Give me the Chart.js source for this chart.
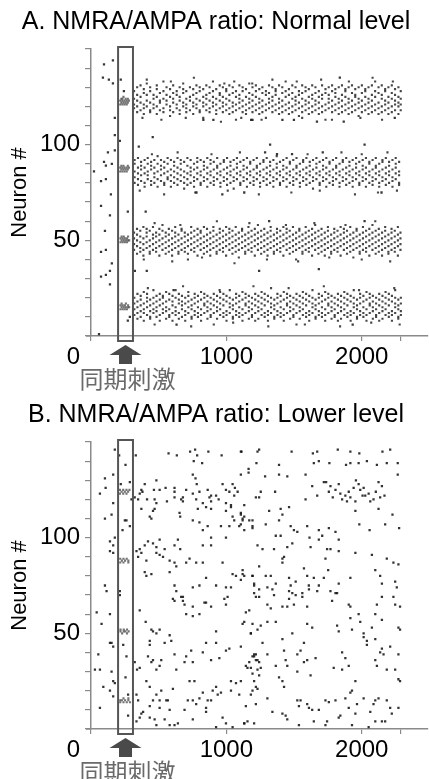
<!DOCTYPE html>
<html>
<head>
<meta charset="utf-8">
<script src="https://cdn.jsdelivr.net/npm/chart.js@4.4.1/dist/chart.umd.min.js"></script>
<style>
  html, body { margin: 0; padding: 0; background: #fff; overflow: hidden; }
  .panel { position: absolute; left: 0; width: 429px; height: 393px; }
</style>
</head>
<body>
<div class="panel" style="top:0"><canvas id="chartA"></canvas></div>
<div class="panel" style="top:393px"><canvas id="chartB"></canvas></div>
<script>
var titleA = 'A. NMRA/AMPA ratio: Normal level';
var titleB = 'B. NMRA/AMPA ratio: Lower level';
var yTitle = 'Neuron #';
var stimLabel = '同期刺激';
var originLabel = '0';
var stimStart = 200, stimEnd = 310;
var xTickValues = [0, 1000, 2000, 2290];
var xTickLabels = ['', '1000', '2000', ''];
var yTickValues = [0, 10, 20, 30, 40, 50, 60, 70, 80, 90, 100, 110, 120, 130, 140, 150];
var yLabelled = [50, 100];

// panel A: [time, neuron, neuron, ...] = neurons firing together
var bandA1 = [
  [318,119,121,124,128],[341,117,120,123,126,130],[366,118,122,125,131],[390,116,119,121,127,129],
  [412,120,123,126,132],[437,117,118,122,128,130],[462,119,121,124,126],[486,116,120,125,129,131],
  [509,118,122,123,127],[535,117,119,124,128,133],[558,121,123,126,130],[584,115,118,120,125,129],
  [607,117,122,124,127,131],[633,119,121,126,128],[655,116,118,123,125,130],[681,120,122,127,129,132],
  [704,117,119,121,124,128],[731,118,123,125,130],[755,116,120,122,126,129],[779,119,121,124,127,131],
  [803,117,118,123,128,130],[829,114,120,122,125,129],[852,118,121,124,126,131],[876,117,119,123,127,130],
  [901,120,122,125,128,133],[925,116,118,121,124,129],[951,119,123,126,127,131],[974,117,120,122,125,130],
  [999,118,121,124,128,129],[1022,116,119,123,126,131],[1047,117,120,122,127,130],[1071,113,118,121,125,128],
  [1096,119,122,124,126,131],[1120,117,120,123,128,130],[1145,116,118,121,125,129],[1169,119,122,124,127,132],
  [1193,117,120,123,126,130],[1218,118,121,125,128,131],[1243,116,119,122,124,129],[1266,117,120,123,127,130],
  [1292,114,118,121,126,128],[1315,119,122,124,127,131],[1340,117,120,123,125,130],[1364,118,121,126,128,129],
  [1389,116,119,122,124,131],[1413,117,120,123,127,130],[1438,118,121,125,128,133],[1462,116,119,122,126,129],
  [1487,117,120,124,127,131],[1511,118,121,123,125,130],[1536,115,119,122,126,128],[1560,117,120,124,127,131],
  [1585,118,121,123,128,130],[1609,116,119,122,125,129],[1634,117,120,124,126,131],[1658,118,121,123,127,130],
  [1683,116,119,122,125,128],[1707,117,120,124,126,131],[1732,113,118,121,127,129],[1756,119,122,124,126,130],
  [1781,117,120,123,128,131],[1805,118,121,125,127,129],[1830,116,119,122,124,130],[1854,117,120,123,126,131],
  [1879,118,121,125,128,129],[1903,116,119,122,124,130],[1928,117,120,123,127,131],[1952,118,121,125,126,129],
  [1977,115,119,122,124,130],[2001,117,120,123,127,131],[2026,118,121,125,128,129],[2050,116,119,122,124,130],
  [2075,117,120,123,126,131],[2099,118,121,125,128,133],[2124,116,119,122,127,130],[2148,117,120,124,126,131],
  [2173,118,121,123,128,129],[2197,116,119,122,125,130],[2222,117,120,124,127,131],[2246,118,121,123,126,129],
  [2271,116,120,122,125,130],[2288,118,121,124,128]
];
var bandA2 = [
  [322,80,83,86,90,92],[347,79,82,85,88,93],[370,81,84,87,89,91],[396,78,80,85,88,92],[419,82,84,86,90,93],
  [444,79,81,87,89,91],[468,80,83,85,88,92],[492,78,82,86,90,94],[517,81,84,87,89,92],[541,79,80,85,88,91],
  [566,82,83,86,90,93],[590,78,81,84,87,92],[614,80,83,86,89,91],[639,79,82,85,88,93],[663,81,84,87,90,92],
  [688,77,80,83,86,91],[712,79,82,85,89,93],[736,80,84,86,88,92],[761,78,81,83,87,90],[785,82,85,88,91,93],
  [810,79,80,84,86,92],[834,81,83,87,89,91],[859,78,82,85,88,93],[883,80,84,86,90,92],[907,79,81,83,87,91],
  [932,82,85,88,89,93],[956,78,80,84,86,90],[981,81,83,87,91,92],[1005,79,82,85,88,93],[1030,80,84,86,89,91],
  [1054,77,81,83,87,92],[1078,82,85,88,90,93],[1103,79,80,84,86,91],[1127,81,83,87,89,92],[1152,78,82,85,88,93],
  [1176,80,84,86,90,91],[1201,79,81,83,87,92],[1225,82,85,88,89,93],[1249,78,80,84,86,90],[1274,81,83,87,91,92],
  [1298,79,82,85,88,93],[1323,80,84,86,89,91],[1347,78,81,83,87,92],[1372,82,85,88,90,94],[1396,79,80,84,86,91],
  [1420,81,83,87,89,92],[1445,78,82,85,88,93],[1469,80,84,86,90,91],[1494,79,81,83,87,92],[1518,82,85,88,89,93],
  [1543,78,80,84,86,90],[1567,81,83,87,91,92],[1591,79,82,85,88,93],[1616,80,84,86,89,91],[1640,77,81,83,87,92],
  [1665,82,85,88,90,93],[1689,79,80,84,86,91],[1714,81,83,87,89,92],[1738,78,82,85,88,93],[1762,80,84,86,90,91],
  [1787,79,81,83,87,92],[1811,82,85,88,89,93],[1836,78,80,84,86,90],[1860,81,83,87,91,92],[1885,79,82,85,88,93],
  [1909,80,84,86,89,91],[1933,78,81,83,87,92],[1958,82,85,88,90,93],[1982,79,80,84,86,91],[2007,81,83,87,89,92],
  [2031,78,82,85,88,93],[2056,80,84,86,90,91],[2080,79,81,83,87,92],[2104,82,85,88,89,93],[2129,78,80,84,86,90],
  [2153,81,83,87,91,92],[2178,79,82,85,88,93],[2202,80,84,86,89,91],[2227,78,81,83,87,92],[2251,82,85,88,90,93],
  [2276,79,80,84,86,91]
];
var bandA3 = [
  [318,45,48,51,54],[340,43,47,50,53,56],[364,44,46,49,52,55],[387,42,45,48,51,57],[411,46,49,52,54,56],
  [434,43,44,47,50,55],[458,45,48,51,53,57],[481,44,46,49,52,54],[505,42,47,50,53,56],[528,45,48,51,55,58],
  [552,43,46,49,52,54],[575,44,47,50,53,56],[599,42,45,48,51,55],[622,46,49,52,54,57],[646,43,44,47,50,53],
  [669,45,48,51,55,56],[693,44,46,49,52,54],[716,40,43,47,50,53],[740,45,48,51,54,57],[763,44,46,49,52,55],
  [787,42,47,50,53,56],[810,45,48,51,54,55],[834,43,46,49,52,57],[857,44,47,50,53,56],[881,42,45,48,51,54],
  [904,46,49,52,55,57],[928,43,44,47,50,53],[951,45,48,51,54,56],[975,44,46,49,52,55],[998,42,47,50,53,57],
  [1022,45,48,51,54,56],[1045,43,46,49,52,55],[1069,44,47,50,53,57],[1092,41,45,48,51,54],[1116,46,49,52,55,56],
  [1139,43,44,47,50,53],[1163,45,48,51,54,57],[1186,44,46,49,52,55],[1210,42,47,50,53,56],[1233,45,48,51,54,58],
  [1257,43,46,49,52,55],[1280,44,47,50,53,56],[1304,42,45,48,51,54],[1327,46,49,52,55,57],[1351,43,44,47,50,53],
  [1374,45,48,51,54,56],[1398,44,46,49,52,55],[1421,42,47,50,53,57],[1445,45,48,51,54,56],[1468,43,46,49,52,55],
  [1492,44,47,50,53,57],[1515,40,45,48,51,54],[1539,46,49,52,55,56],[1562,43,44,47,50,53],[1586,45,48,51,54,57],
  [1609,44,46,49,52,55],[1633,42,47,50,53,56],[1656,45,48,51,54,58],[1680,43,46,49,52,55],[1703,44,47,50,53,56],
  [1727,42,45,48,51,54],[1750,46,49,52,55,57],[1774,43,44,47,50,53],[1797,45,48,51,54,56],[1821,44,46,49,52,55],
  [1844,42,47,50,53,57],[1868,45,48,51,54,56],[1891,43,46,49,52,55],[1915,44,47,50,53,57],[1938,41,45,48,51,54],
  [1962,46,49,52,55,56],[1985,43,44,47,50,53],[2009,45,48,51,54,57],[2032,44,46,49,52,55],[2056,42,47,50,53,56],
  [2079,45,48,51,54,58],[2103,43,46,49,52,55],[2126,44,47,50,53,56],[2150,42,45,48,51,54],[2173,46,49,52,55,57],
  [2197,43,44,47,50,53],[2220,45,48,51,54,56],[2244,44,46,49,52,55],[2267,42,47,50,53,57],[2286,45,48,51,54]
];
var bandA4 = [
  [320,11,14,17,20],[343,9,12,15,18,22],[367,10,13,16,19,21],[390,8,12,14,17,23],[414,11,15,18,20,22],
  [437,9,10,13,16,19],[461,12,14,17,20,24],[484,10,13,15,18,21],[508,8,11,16,19,22],[531,12,14,17,20,21],
  [555,9,13,15,18,23],[578,10,11,14,19,22],[602,8,12,16,18,21],[625,11,13,15,20,24],[649,9,12,17,19,22],
  [672,10,14,16,18,21],[696,8,11,13,17,20],[719,12,15,18,21,23],[743,9,10,14,16,19],[766,11,13,17,20,22],
  [790,10,12,15,18,21],[813,8,11,14,19,23],[837,12,16,17,20,22],[860,9,13,15,18,21],[884,10,11,14,17,20],
  [907,6,12,16,19,22],[931,9,13,15,18,21],[954,11,14,17,20,23],[978,10,12,16,19,22],[1001,8,11,13,18,21],
  [1025,12,15,17,20,24],[1048,9,10,14,16,19],[1072,11,13,17,20,22],[1095,10,12,15,18,21],[1119,8,11,14,19,23],
  [1142,12,16,17,20,22],[1166,9,13,15,18,21],[1189,10,11,14,17,20],[1213,8,12,16,19,22],[1236,9,13,15,18,21],
  [1260,11,14,17,20,23],[1283,10,12,16,19,22],[1307,8,11,13,18,21],[1330,12,15,17,20,25],[1354,9,10,14,16,19],
  [1377,11,13,17,20,22],[1401,10,12,15,18,21],[1424,8,11,14,19,23],[1448,12,16,17,20,22],[1471,9,13,15,18,21],
  [1495,10,11,14,17,20],[1518,6,12,16,19,22],[1542,9,13,15,18,21],[1565,11,14,17,20,23],[1589,10,12,16,19,22],
  [1612,8,11,13,18,21],[1636,12,15,17,20,24],[1659,9,10,14,16,19],[1683,11,13,17,20,22],[1706,10,12,15,18,21],
  [1730,8,11,14,19,23],[1753,12,16,17,20,22],[1777,9,13,15,18,21],[1800,10,11,14,17,20],[1824,8,12,16,19,22],
  [1847,9,13,15,18,21],[1871,11,14,17,20,23],[1894,10,12,16,19,22],[1918,8,11,13,18,21],[1941,12,15,17,20,24],
  [1965,9,10,14,16,19],[1988,11,13,17,20,22],[2012,10,12,15,18,21],[2035,8,11,14,19,23],[2059,12,16,17,20,22],
  [2082,9,13,15,18,21],[2106,10,11,14,17,20],[2129,8,12,16,19,22],[2153,9,13,15,18,21],[2176,11,14,17,20,23],
  [2200,10,12,16,19,22],[2223,8,11,13,18,21],[2247,12,15,17,20,24],[2270,9,10,14,16,19],[2289,11,13,17,20]
];
var syncA = [
  [216,121,123],[224,122,124],[232,121,123,124],[240,122,125],[248,121,123],[256,122,124],[264,121,123],[272,122,124],[280,123],
  [216,86,88],[224,87,89],[232,86,88],[240,87,89],[248,86,88],[256,87],[264,86,88],[272,87,89],[280,88],
  [218,49,51],[226,50,52],[234,49,51],[242,50,52],[250,49,51],[258,50],[266,49,51],[274,50,52],[282,50],
  [218,14,16],[226,15,17],[234,14,16],[242,15],[250,14,16],[258,15,17],[266,14],[274,15,16],[282,15]
];
// scattered single spikes, flat [time, neuron, ...]
var strayA = [
  96,142, 162,144, 88,135, 132,134, 162,132, 220,134, 243,128, 176,114, 176,105, 213,102, 125,96, 96,91,
  110,89, 154,90, 22,86, 74,81, 110,82, 147,74, 176,97, 74,68, 272,65, 140,63, 103,55, 74,44, 110,45,
  154,38, 140,34, 74,31, 110,32, 140,27, 59,1, 287,10, 272,8,
  353,99, 456,104, 404,65, 324,34, 412,34, 632,6, 610,24, 779,75, 970,74, 1132,75, 1838,135, 1867,112,
  1669,112, 1323,100, 2021,100, 1242,34, 1683,35, 1933,6, 2146,75, 1316,60, 2021,60, 1193,113, 1414,113,
  1499,113, 2244,114, 1286,96, 1374,95, 1485,95, 1712,96, 830,113, 904,113, 1183,113
];
// sparse spikes along the band edges
var edgeA = [
  412,134, 590,133, 760,135, 985,132, 1058,133, 1191,132, 1340,134, 1520,133, 1700,134, 1905,133, 2080,135, 2230,133,
  380,114, 520,113, 700,114, 960,112, 1110,114, 1260,113, 1560,114, 1780,113, 1990,114, 2150,113,
  450,95, 640,96, 890,95, 1100,96, 1600,95, 1850,96, 2000,95, 2190,96,
  360,76, 540,74, 770,75, 1010,76, 1240,74, 1480,75, 1690,76, 1950,74, 2120,75, 2260,76,
  470,59, 660,58, 930,60, 1170,59, 1440,58, 1650,59, 1880,58, 2100,60,
  390,40, 600,39, 820,41, 1060,38, 1300,40, 1530,39, 1760,41, 2000,40, 2210,39,
  420,25, 680,26, 950,24, 1200,26, 1460,25, 1720,26, 1980,24, 2240,25,
  470,6, 740,5, 1050,7, 1310,5, 1580,6, 1840,5, 2070,7, 2280,6
];

// panel B
var syncB = [
  [214,123,125],[226,124],[238,123,125],[250,124],[262,123,125],[274,124],[284,125],
  [216,87,89],[228,88],[240,87,89],[252,88],[264,89],[276,87,88],
  [218,51,52],[230,50],[242,51,52],[254,51],[266,50,52],[278,51],
  [216,14,15],[228,15],[240,14,16],[252,15],[264,14],[276,15,16],[288,14]
];
var spikesB = [
  176,146, 66,123, 103,131, 164,133, 108,126, 164,118, 103,110, 152,112, 140,98, 164,96, 176,100, 140,93,
  164,92, 103,75, 115,72, 42,61, 140,60, 78,55, 152,45, 140,45, 164,43, 54,39, 29,31, 66,31, 152,30,
  164,25, 176,24, 91,22, 164,17, 66,11, 140,20,
  208,143, 255,138, 220,128, 287,129, 250,109, 233,104, 287,106, 262,109, 213,70, 262,38, 255,27, 274,18,
  274,7, 238,44, 213,72,
  331,143, 573,144, 634,143, 732,145, 769,146, 867,145, 965,143, 1112,145, 784,143, 759,140, 821,139,
  1164,136, 372,125, 397,128, 483,130, 617,126, 752,133, 772,131, 781,128, 972,128, 1046,128, 1063,126,
  380,124, 360,123, 465,125, 507,125, 551,126, 617,124, 679,121, 703,125, 801,124, 752,123, 862,125,
  887,122, 924,122, 997,125, 1022,124, 1058,122, 1083,124, 1218,121, 299,120, 323,121, 348,120, 414,120,
  470,120, 483,118, 561,119, 617,121, 666,120, 679,119, 777,120, 826,118, 875,121, 887,119, 943,120,
  997,118, 1034,117, 1132,117, 372,115, 458,114, 470,115, 789,115, 850,116, 887,115, 997,114, 1034,116,
  434,111, 446,110, 654,113, 659,111, 752,109, 801,108, 826,104, 862,106, 960,106, 1046,111, 1058,109,
  1107,112, 1120,109, 1132,111, 1022,106, 1095,106, 1193,109, 1193,106, 397,96, 421,98, 360,94, 458,97,
  483,95, 507,99, 544,94, 617,96, 659,94, 642,99, 826,96, 887,100, 887,96, 997,100, 336,93, 372,92,
  348,90, 409,88, 483,92, 507,91, 532,90, 581,88, 617,87, 630,85, 703,87, 728,89, 777,87, 826,87,
  972,87, 1046,81, 1071,80, 1107,78, 1120,81, 1193,80, 1205,76, 1034,74, 397,82, 409,80, 446,81, 581,82,
  617,75, 630,72, 679,69, 752,74, 801,75, 850,79, 924,75, 997,74, 1009,69,
  323,35, 340,31, 360,62, 404,56, 446,52, 458,51, 483,50, 507,52, 434,46, 434,44, 458,36, 483,31,
  507,33, 519,36, 544,45, 617,39, 630,31, 605,21, 519,20, 507,15, 458,15, 434,12, 507,11, 470,5,
  385,9, 360,6, 434,6, 544,5, 568,15, 617,2, 642,3, 703,38, 740,41, 691,35, 752,35, 752,5, 715,15,
  752,15, 777,13, 801,16, 826,19, 850,11, 850,9, 862,15, 887,15, 899,20, 924,22, 936,18, 960,19,
  924,1, 972,6, 997,41, 1022,42, 1034,25, 1071,24, 1107,25, 1034,20, 1095,18, 1144,12, 1193,20, 1132,3,
  1156,4, 997,3, 1046,1, 1120,55, 1181,50, 1205,38, 1169,35, 1181,32, 1218,39, 1218,36, 1193,55, 1169,62,
  666,69, 679,67, 691,65, 752,64, 838,66, 850,66, 997,65, 887,64, 985,68, 1144,61, 1218,69, 605,68,
  617,67, 703,60, 752,59, 801,60, 924,51, 850,45, 924,45, 826,40, 887,36, 948,37, 360,32, 421,38,
  446,35, 581,49, 593,46, 409,25, 434,22, 483,18, 556,15, 581,10, 691,10, 728,25, 764,25, 336,18,
  348,15, 336,4, 372,8, 581,2, 483,2,
  1107,145, 1230,145, 1242,146, 1482,145, 1639,144, 1671,145, 1823,146, 1916,145, 1982,144, 2153,145,
  2210,146, 1222,139, 1389,138, 1646,139, 1683,140, 1761,139, 1884,138, 1916,139, 1977,139, 2038,140,
  2112,138, 2185,139, 2266,139, 1107,133, 1164,134, 1286,132, 1389,133, 1450,132, 1585,133, 2266,133,
  1720,129, 1737,129, 1769,127, 1806,125, 1830,128, 1842,123, 1855,120, 1879,122, 1904,124, 1916,121,
  1940,126, 1957,130, 1977,128, 1989,125, 2006,122, 2014,126, 2026,122, 2051,123, 2063,119, 2087,120,
  2104,124, 2124,129, 2136,121, 2149,127, 2168,122, 1786,121, 1891,119, 1953,119, 1757,124, 1671,122,
  1634,127, 1585,120, 1254,124, 1360,124, 1242,121, 1316,114, 1401,115, 1414,112, 1463,116, 1107,113,
  1120,110, 1169,109, 1953,114, 2227,112, 2276,105, 1982,107, 2058,104, 2173,107, 2124,115,
  1132,104, 1193,105, 1291,107, 1389,109, 1475,106, 1499,104, 1365,101, 1401,101, 1450,95, 1524,103,
  1597,106, 1614,100, 1622,95, 1683,104, 1708,101, 1757,105, 1806,103, 1830,99, 1744,94, 1769,94,
  1830,93, 1683,99, 1230,96, 1267,94, 1352,94, 1414,89, 1487,97, 1107,107,
  1120,83, 1132,80, 1193,80, 1205,75, 1242,85, 1291,80, 1328,80, 1303,74, 1340,73, 1365,76, 1414,87,
  1426,90, 1463,79, 1475,75, 1487,71, 1512,77, 1573,84, 1597,80, 1609,75, 1646,79, 1683,75, 1720,79,
  1732,89, 1752,83, 1830,76, 1818,71, 1916,79, 1953,92, 2075,91, 2100,83, 2136,80, 2149,76, 2185,89,
  2247,77, 2259,74, 2234,87, 2271,86, 2149,69, 1242,69, 1463,68, 1561,69,
  1205,71, 1242,73, 1352,70, 1463,72, 1512,70, 1561,71, 1610,73, 1671,72, 1769,72, 1806,71, 1303,65,
  1328,63, 1414,64, 1450,64, 1499,65, 1597,64, 1781,67, 1904,65, 1916,64, 2112,65, 2234,69, 2247,65,
  2283,64, 1132,56, 1181,50, 1230,52, 1254,54, 1303,56, 1365,56, 1487,50, 1597,55, 1634,53, 1818,54,
  1830,51, 1916,58, 1928,52, 1977,60, 1989,56, 2014,50, 2075,53, 2100,60, 2149,57, 2271,53, 2283,52,
  1107,43, 1193,38, 1205,39, 1230,36, 1242,35, 1267,45, 1303,39, 1414,47, 1426,41, 1524,39, 1548,41,
  1573,45, 1597,36, 1659,37, 1855,40, 1879,37, 2014,48, 2038,46, 2038,44, 2100,47, 2136,40, 2149,42,
  2161,39, 2210,43, 2271,39, 1144,33, 1156,32, 1193,29, 1205,25, 1230,31, 1242,28, 1254,32, 1218,22,
  1230,21, 1365,33, 1389,27, 1414,25, 1426,22, 1438,36, 1450,33, 1524,30, 1573,35, 1622,28, 1793,32,
  1855,31, 1904,33, 1953,25, 2100,36, 2112,33, 2185,31, 2247,31, 2271,26, 2283,25,
  1181,18, 1218,13, 1303,16, 1340,9, 1414,8, 1438,7, 1450,5, 1524,15, 1536,12, 1548,15, 1597,13,
  1610,11, 1634,10, 1646,4, 1683,10, 1732,15, 1744,4, 1757,14, 1806,15, 1830,6, 1842,7, 1879,16,
  1904,11, 1916,19, 1928,20, 1953,8, 1965,13, 2014,16, 2063,9, 2087,13, 2100,15, 2124,16, 2149,4,
  2185,15, 2210,11, 2222,8, 2271,11, 1132,3, 1205,3, 1536,2, 1732,2, 1928,2, 2051,1, 2100,4, 2173,4
];

var fontFamily = '"Liberation Sans", Arial, Helvetica, sans-serif';
var axisGray = '#8a8a8a';

function fromGroups(groups) {
  var pts = [];
  groups.forEach(function (g) {
    for (var i = 1; i < g.length; i++) pts.push({ x: g[0], y: g[i] });
  });
  return pts;
}
function fromPairs(flat) {
  var pts = [];
  for (var i = 0; i < flat.length; i += 2) pts.push({ x: flat[i], y: flat[i + 1] });
  return pts;
}
function spikes(points, color, r) {
  return {
    data: points,
    pointStyle: 'rect',
    pointRadius: r,
    pointHoverRadius: r,
    pointBorderWidth: 0,
    pointBackgroundColor: color,
    showLine: false
  };
}

// stimulus box, arrow, label and the shared origin "0"
var stimMarker = {
  id: 'stimMarker',
  afterDraw: function (chart) {
    var ctx = chart.ctx, xs = chart.scales.x, area = chart.chartArea;
    var x0 = xs.getPixelForValue(stimStart), x1 = xs.getPixelForValue(stimEnd);
    var cx = (x0 + x1) / 2, b = area.bottom;
    ctx.save();
    ctx.strokeStyle = '#555';
    ctx.lineWidth = 2;
    ctx.strokeRect(x0, area.top - 2, x1 - x0, b - area.top + 7);

    ctx.strokeStyle = axisGray;
    ctx.lineWidth = 1.5;
    ctx.beginPath();
    ctx.moveTo(area.left - 5, b);
    ctx.lineTo(area.left, b);
    ctx.stroke();

    ctx.fillStyle = '#4a4a4a';
    ctx.beginPath();
    ctx.moveTo(cx, b + 9);
    ctx.lineTo(cx + 16, b + 19);
    ctx.lineTo(cx + 6.5, b + 19);
    ctx.lineTo(cx + 6.5, b + 28);
    ctx.lineTo(cx - 6.5, b + 28);
    ctx.lineTo(cx - 6.5, b + 19);
    ctx.lineTo(cx - 16, b + 19);
    ctx.closePath();
    ctx.fill();

    ctx.fillStyle = '#6a6a6a';
    ctx.font = '24px "Noto Sans CJK JP", sans-serif';
    ctx.textAlign = 'center';
    ctx.textBaseline = 'middle';
    ctx.fillText(stimLabel, cx + 2, b + 43);

    ctx.fillStyle = '#000';
    ctx.font = '24px ' + fontFamily;
    ctx.textAlign = 'right';
    ctx.fillText(originLabel, area.left - 11, b + 21.4);
    ctx.restore();
  }
};

function makeChart(id, title, datasets) {
  var ctx = document.getElementById(id).getContext('2d');
  return new Chart(ctx, {
    type: 'scatter',
    data: { datasets: datasets },
    options: {
      responsive: true,
      maintainAspectRatio: false,
      animation: false,
      events: [],
      layout: { padding: { left: 3, right: 0, top: 0, bottom: 21 } },
      plugins: {
        legend: { display: false },
        tooltip: { enabled: false },
        title: {
          display: true,
          text: title,
          color: '#000',
          font: { family: fontFamily, size: 25, weight: 'normal' },
          padding: { top: 7, bottom: 12 }
        }
      },
      scales: {
        x: {
          type: 'linear',
          min: 0,
          max: 2485,
          afterBuildTicks: function (s) {
            s.ticks = xTickValues.map(function (v) { return { value: v }; });
          },
          afterFit: function (s) { s.height = 36; },
          ticks: {
            autoSkip: false,
            maxRotation: 0,
            padding: 2,
            color: '#000',
            font: { family: fontFamily, size: 24 },
            callback: function (v) { return xTickLabels[xTickValues.indexOf(v)] || ''; }
          },
          grid: { drawOnChartArea: false, tickLength: 5, color: axisGray, lineWidth: 1.2 },
          border: { color: axisGray, width: 1.5 }
        },
        y: {
          type: 'linear',
          min: 0,
          max: 150,
          afterBuildTicks: function (s) {
            s.ticks = yTickValues.map(function (v) { return { value: v }; });
          },
          afterFit: function (s) { s.width = 88; },
          title: {
            display: true,
            text: yTitle,
            color: '#000',
            font: { family: fontFamily, size: 22 },
            padding: { top: 4, bottom: 4 }
          },
          ticks: {
            autoSkip: false,
            padding: 5,
            color: '#000',
            font: { family: fontFamily, size: 24 },
            callback: function (v) { return yLabelled.indexOf(v) >= 0 ? String(v) : ''; }
          },
          grid: { drawOnChartArea: false, tickLength: 6, color: axisGray, lineWidth: 1.2 },
          border: { color: axisGray, width: 1.5 }
        }
      }
    },
    plugins: [stimMarker]
  });
}

var bandPointsA = []
  .concat(fromGroups(bandA1), fromGroups(bandA2), fromGroups(bandA3), fromGroups(bandA4));

makeChart('chartA', titleA, [
  spikes(bandPointsA, 'rgba(25,25,25,0.8)', 1.5),
  spikes(fromPairs(edgeA), 'rgba(25,25,25,0.8)', 1.5),
  spikes(fromPairs(strayA), 'rgba(20,20,20,0.85)', 1.6),
  spikes(fromGroups(syncA), 'rgba(80,80,80,0.8)', 1.5)
]);

makeChart('chartB', titleB, [
  spikes(fromPairs(spikesB), 'rgba(15,15,15,0.85)', 1.6),
  spikes(fromGroups(syncB), 'rgba(80,80,80,0.8)', 1.5)
]);
</script>
</body>
</html>
